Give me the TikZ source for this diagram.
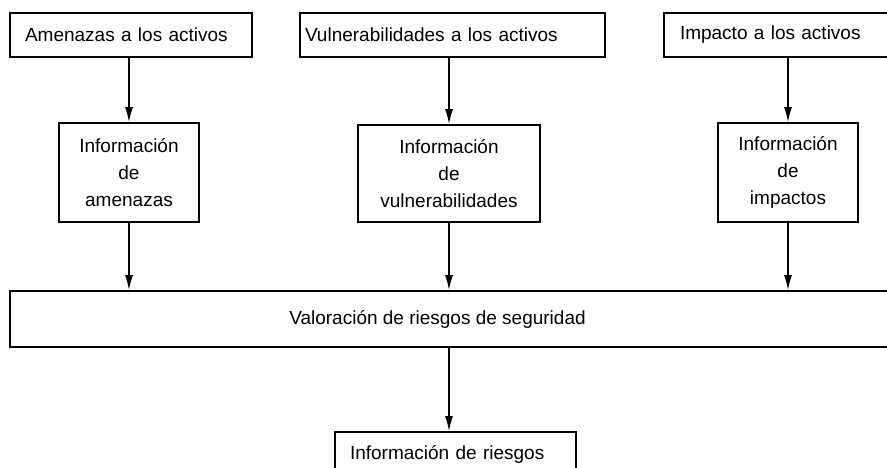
\documentclass[tikz,border=0pt]{standalone}
\usepackage{fontspec}
\setmainfont{Liberation Sans}
\usepackage{tikz}
\usetikzlibrary{positioning,arrows.meta}

\begin{document}
\begin{tikzpicture}[x=1pt,y=-1pt,font=\fontsize{19}{27}\selectfont,
  box/.style={draw,line width=1.6pt,inner ysep=0pt,minimum height=44},
  info/.style={draw,line width=1.6pt,inner sep=0pt,align=center},
  arr/.style={line width=1.6pt,-{Latex[length=15pt,width=8pt]}}]
  \useasboundingbox (0,0) rectangle (887,468);

  % activos
  \node[box,inner xsep=15,text width=212,align=left] (thrA) at (131,35) {Amenazas a los activos};
  \node[box,inner xsep=5,text width=295,align=left] (thrB) at (452.5,35) {Vulnerabilidades a los activos};
  \node[box,inner xsep=16,text width=197,align=left] (thrC) at (778.5,35) {Impacto a los activos};

  % informacion
  \node[info,minimum width=140,minimum height=99] (infA) at (129,172.5) {Información\\de\\amenazas};
  \node[info,minimum width=182,minimum height=97] (infB) at (449,173.5) {Información\\de\\vulnerabilidades};
  \node[info,minimum width=140,minimum height=99] (infC) at (788,172.5) {Información\\de\\impactos};

  % valoracion
  \node[draw,line width=1.6pt,minimum width=883,minimum height=56,
    label={[xshift=-14pt]center:Valoración de riesgos de seguridad}] (val) at (451.5,319) {};
  \node[box,inner xsep=15,text width=211,align=left] (ris) at (455.5,454) {Información de riesgos};

  \draw[arr] (infA.north |- thrA.south) -- (infA.north);
  \draw[arr] (infB.north |- thrB.south) -- (infB.north);
  \draw[arr] (infC.north |- thrC.south) -- (infC.north);
  \draw[arr] (infA.south) -- (infA.south |- val.north);
  \draw[arr] (infB.south) -- (infB.south |- val.north);
  \draw[arr] (infC.south) -- (infC.south |- val.north);
  \draw[arr] (val.south -| infB) -- (ris.north -| infB);
\end{tikzpicture}
\end{document}
